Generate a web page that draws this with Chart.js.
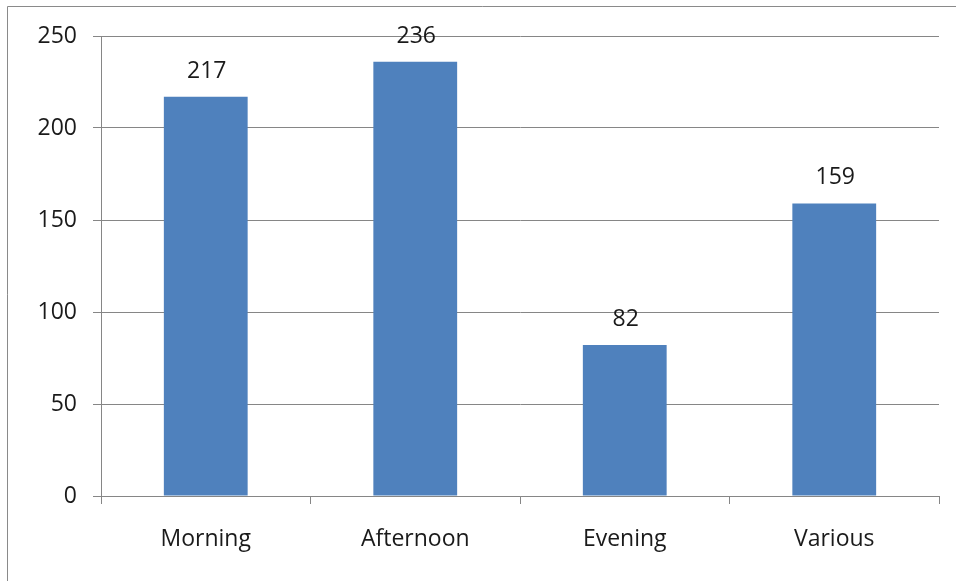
<!DOCTYPE html>
<html>
<head>
<meta charset="utf-8">
<script src="https://cdn.jsdelivr.net/npm/chart.js@4"></script>
<style>
  html, body { margin: 0; padding: 0; background: #fff; }
  #wrap { width: 956px; height: 581px; position: relative; }
</style>
</head>
<body>
<div id="wrap"><canvas id="chart" width="956" height="581"></canvas></div>
<script>
const categories = ["Morning", "Afternoon", "Evening", "Various"];
const counts = [217, 236, 82, 159];
const yTicks = [0, 50, 100, 150, 200, 250];

const FONT = "'Open Sans', 'Noto Sans', sans-serif";
const textColor = "#1a1a1a";
const gridColor = "#868686";

// outer frame (cropped on the right and bottom like the source image)
const framePlugin = {
  id: "frame",
  beforeDraw(chart) {
    const c = chart.ctx;
    c.save();
    c.strokeStyle = "#8a8a8a";
    c.lineWidth = 1;
    c.beginPath();
    c.moveTo(7.5, 600);
    c.lineTo(7.5, 6.5);
    c.lineTo(960, 6.5);
    c.stroke();
    c.restore();
  },
};

// value labels above the bars
const valueLabels = {
  id: "valueLabels",
  afterDatasetsDraw(chart) {
    const c = chart.ctx;
    const meta = chart.getDatasetMeta(0);
    c.save();
    c.font = "23px " + FONT;
    c.fillStyle = textColor;
    c.textAlign = "center";
    c.textBaseline = "bottom";
    meta.data.forEach((bar, i) => {
      c.fillText(String(counts[i]), bar.x + 1, bar.y - 14);
    });
    c.restore();
  },
};

new Chart(document.getElementById("chart"), {
  type: "bar",
  data: {
    labels: categories,
    datasets: [{
      data: counts,
      backgroundColor: "#4F81BD",
      borderWidth: 0,
      categoryPercentage: 0.4,
      barPercentage: 1.0,
    }],
  },
  options: {
    responsive: false,
    animation: false,
    devicePixelRatio: 1,
    layout: { padding: { top: 36, right: 17, left: 0, bottom: 0 } },
    plugins: { legend: { display: false }, tooltip: { enabled: false } },
    scales: {
      x: {
        offset: true,
        afterFit: (s) => { s.height = 85; },
        border: { color: gridColor, width: 1 },
        grid: { offset: true, drawOnChartArea: false, drawTicks: true, tickLength: 8, color: gridColor },
        ticks: { color: textColor, font: { family: FONT, size: 23 }, padding: 22 },
      },
      y: {
        min: 0,
        max: 250,
        afterFit: (s) => { s.width = 101; },
        afterBuildTicks: (s) => { s.ticks = yTicks.map((v) => ({ value: v })); },
        border: { color: gridColor, width: 1 },
        grid: { color: gridColor, tickLength: 8 },
        ticks: { color: textColor, font: { family: FONT, size: 23 }, padding: 16 },
      },
    },
  },
  plugins: [framePlugin, valueLabels],
});
</script>
</body>
</html>
